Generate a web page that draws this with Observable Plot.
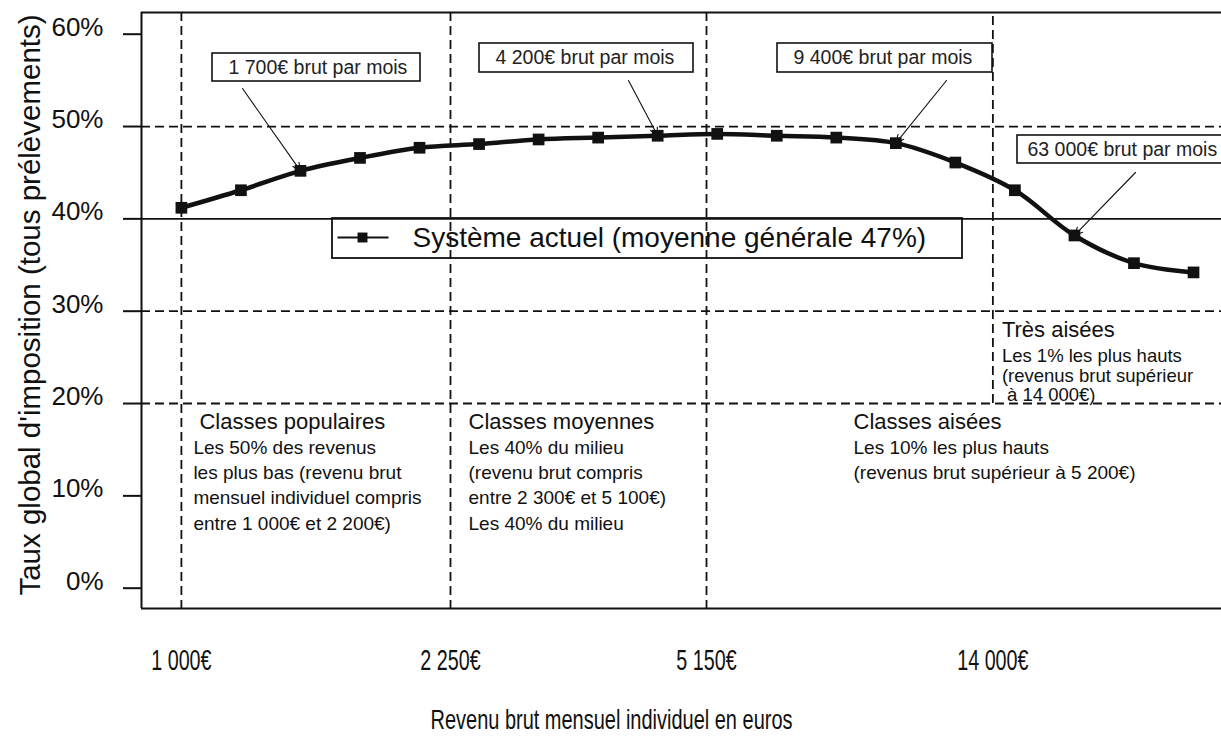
<!DOCTYPE html>
<html>
<head>
<meta charset="utf-8">
<script src="https://cdn.jsdelivr.net/npm/d3@7"></script>
<script src="https://cdn.jsdelivr.net/npm/@observablehq/plot@0.6"></script>
<style>
  html, body { margin: 0; padding: 0; background: white; overflow: hidden; }
  #chart svg { display: block; }
</style>
</head>
<body>
<div id="chart"></div>
<script>
// ---------- data ----------
const pointIndex = [0, 1, 2, 3, 4, 5, 6, 7, 8, 9, 10, 11, 12, 13, 14, 15, 16, 17];
const taxRate = [41.2, 43.1, 45.2, 46.6, 47.7, 48.1, 48.6, 48.8, 49.0, 49.2, 49.0, 48.8, 48.2, 46.1, 43.1, 38.2, 35.2, 34.2];
const seriesName = "Système actuel (moyenne générale 47%)";

const yTicks = [0, 10, 20, 30, 40, 50, 60];
const xTickAt = [0, 4.52, 8.82, 13.63];
const xTickLabels = ["1 000€", "2 250€", "5 150€", "14 000€"];

const annotIndex = [2, 8, 12, 15];
const annotLabels = ["1 700€ brut par mois", "4 200€ brut par mois", "9 400€ brut par mois", "63 000€ brut par mois"];

const regionTitles = ["Classes populaires", "Classes moyennes", "Classes aisées"];
const regionBodies = [
  "Les 50% des revenus\nles plus bas (revenu brut\nmensuel individuel compris\nentre 1 000€ et 2 200€)",
  "Les 40% du milieu\n(revenu brut compris\nentre 2 300€ et 5 100€)\nLes 40% du milieu",
  "Les 10% les plus hauts\n(revenus brut supérieur à 5 200€)"
];
const topTitle = "Très aisées";
const topBody = "Les 1% les plus hauts\n(revenus brut supérieur\n à 14 000€)";

const xTitle = "Revenu brut mensuel individuel en euros";
const yTitle = "Taux global d'imposition (tous prélèvements)";

// ---------- layout ----------
const W = 1221, H = 738;
const mL = 141, mR = 0, mT = 12, mB = 130;
const xDom = [-0.67, 17.47];
const yDom = [-2.2, 62.35];
// pixel <-> data helpers for annotation placement
const ix = p => xDom[0] + (p - mL) / (W - mL - mR) * (xDom[1] - xDom[0]);
const iy = p => yDom[0] + (H - mB - p) / (H - mB - mT) * (yDom[1] - yDom[0]);
const px = v => mL + (v - xDom[0]) / (xDom[1] - xDom[0]) * (W - mL - mR);

const annotBoxes = [[212, 420, 53, 81], [479, 693, 43, 72], [777, 992, 43, 72], [1017, 1232, 135, 163]];
const annotPad = [16, 16, 16, 10];
const annotTails = [[242, 88], [628, 80], [946, 80], [1135, 172]];

const points = pointIndex.map((i, k) => ({i, v: taxRate[k]}));
const annots = annotIndex.map((idx, k) => ({
  idx, v: taxRate[idx], label: annotLabels[k],
  bx1: ix(annotBoxes[k][0]), bx2: ix(annotBoxes[k][1]),
  by1: iy(annotBoxes[k][3]), by2: iy(annotBoxes[k][2]),
  tx: ix(annotBoxes[k][0] + annotPad[k]),
  ty: iy((annotBoxes[k][2] + annotBoxes[k][3]) / 2),
  ax: ix(annotTails[k][0]), ay: iy(annotTails[k][1])
}));
const xTicks = xTickAt.map((at, k) => ({at, label: xTickLabels[k]}));
const titleX = [ix(px(xTickAt[0]) + 18), ix(px(xTickAt[1]) + 18), ix(853)];
const bodyX = [ix(px(xTickAt[0]) + 12), ix(px(xTickAt[1]) + 18), ix(853)];
const regions = regionTitles.map((t, k) => ({tx: titleX[k], bx: bodyX[k], title: t, body: regionBodies[k]}));
const topX = ix(px(xTickAt[3]) + 9);

const dash = "9,5";
const ink = "#111";
const font = "'Liberation Sans', Arial, Helvetica, sans-serif";

const chart = Plot.plot({
  width: W, height: H,
  marginLeft: mL, marginRight: mR, marginTop: mT, marginBottom: mB,
  style: {fontFamily: font, background: "white", color: ink},
  x: {domain: xDom, axis: null},
  y: {domain: yDom, axis: null},
  marks: [
    // grid
    Plot.ruleY([50, 30, 20], {stroke: ink, strokeWidth: 1.8, strokeDasharray: dash}),
    Plot.ruleY([40], {stroke: ink, strokeWidth: 1.8}),
    Plot.ruleX(xTickAt.slice(0, 3), {stroke: ink, strokeWidth: 1.8, strokeDasharray: dash}),
    Plot.ruleX(xTickAt.slice(3), {y1: 20, y2: yDom[1], stroke: ink, strokeWidth: 1.8, strokeDasharray: dash}),
    // frame (left, top, bottom)
    Plot.ruleY([yDom[0], yDom[1]], {stroke: ink, strokeWidth: 2}),
    Plot.ruleX([xDom[0]], {stroke: ink, strokeWidth: 2}),
    // y axis: ticks, then labels
    Plot.axisY({ticks: yTicks, tickSize: 18, tickFormat: () => "", strokeWidth: 2, stroke: ink, label: null}),
    Plot.axisY({ticks: yTicks, tickSize: 0, tickPadding: 38, tickFormat: d => d + "%",
      fontSize: 26, dy: -7, fill: ink, label: null}),
    // x tick labels
    Plot.text(xTicks, {x: "at", text: "label", frameAnchor: "bottom", lineAnchor: "middle", dy: 52, fontSize: 29, fill: ink}),
    // axis titles
    Plot.text([xTitle], {frameAnchor: "bottom", textAnchor: "middle", lineAnchor: "middle",
      dx: 611 - (mL + W - mR) / 2, dy: 112, fontSize: 28, fill: ink}),
    Plot.text([yTitle], {frameAnchor: "left", textAnchor: "middle", lineAnchor: "middle",
      dx: 29.6 - mL, dy: 304.5 - (mT + H - mB) / 2, rotate: -90, fontSize: 29.5, fill: ink}),
    // legend
    Plot.rect([0], {x1: ix(332), x2: ix(962), y1: iy(258), y2: iy(218), stroke: ink, strokeWidth: 1.8, fill: "none"}),
    Plot.link([0], {x1: ix(337), x2: ix(388), y1: iy(237), y2: iy(237), stroke: ink, strokeWidth: 2}),
    Plot.dot([0], {x: ix(362), y: iy(237), symbol: "square", r: 5.6, fill: ink, stroke: null}),
    Plot.text([seriesName], {x: ix(412), y: iy(238), textAnchor: "start", fontSize: 28, fill: ink}),
    // series
    Plot.line(points, {x: "i", y: "v", curve: "catmull-rom", stroke: ink, strokeWidth: 4.5}),
    Plot.dot(points, {x: "i", y: "v", symbol: "square", r: 6.6, fill: ink, stroke: null}),
    // annotations
    Plot.arrow(annots, {x1: "ax", y1: "ay", x2: "idx", y2: "v", stroke: ink, strokeWidth: 1.1, headLength: 12, headAngle: 50}),
    Plot.rect(annots, {x1: "bx1", x2: "bx2", y1: "by1", y2: "by2", fill: "white", stroke: ink, strokeWidth: 1.6}),
    Plot.text(annots, {x: "tx", y: "ty", text: "label", textAnchor: "start", fontSize: 19.5, fill: "#222"}),
    // region texts
    Plot.text(regions, {x: "tx", y: 20, dy: 18, text: "title", textAnchor: "start", lineAnchor: "middle", fontSize: 22, fill: ink}),
    Plot.text(regions, {x: "bx", y: 20, dy: 33, text: "body", textAnchor: "start", lineAnchor: "top", lineHeight: 1.32, fontSize: 19, fill: ink}),
    Plot.text([topTitle], {x: topX, y: 30, dy: 18.5, textAnchor: "start", lineAnchor: "middle", fontSize: 22, fill: ink}),
    Plot.text([topBody], {x: topX, y: 30, dy: 37, textAnchor: "start", lineAnchor: "top", lineHeight: 1.06, fontSize: 18.5, fill: ink})
  ]
});
document.getElementById("chart").appendChild(chart);

// the reference uses a condensed face for the x-axis texts
d3.select(chart).selectAll("text")
  .filter(function() { return xTickLabels.includes(this.textContent) || this.textContent === xTitle; })
  .each(function() {
    const len = this.getComputedTextLength();
    const k = this.textContent === xTitle ? 362 / len : 0.68;
    d3.select(this).attr("textLength", len * k).attr("lengthAdjust", "spacingAndGlyphs");
  });
</script>
</body>
</html>
